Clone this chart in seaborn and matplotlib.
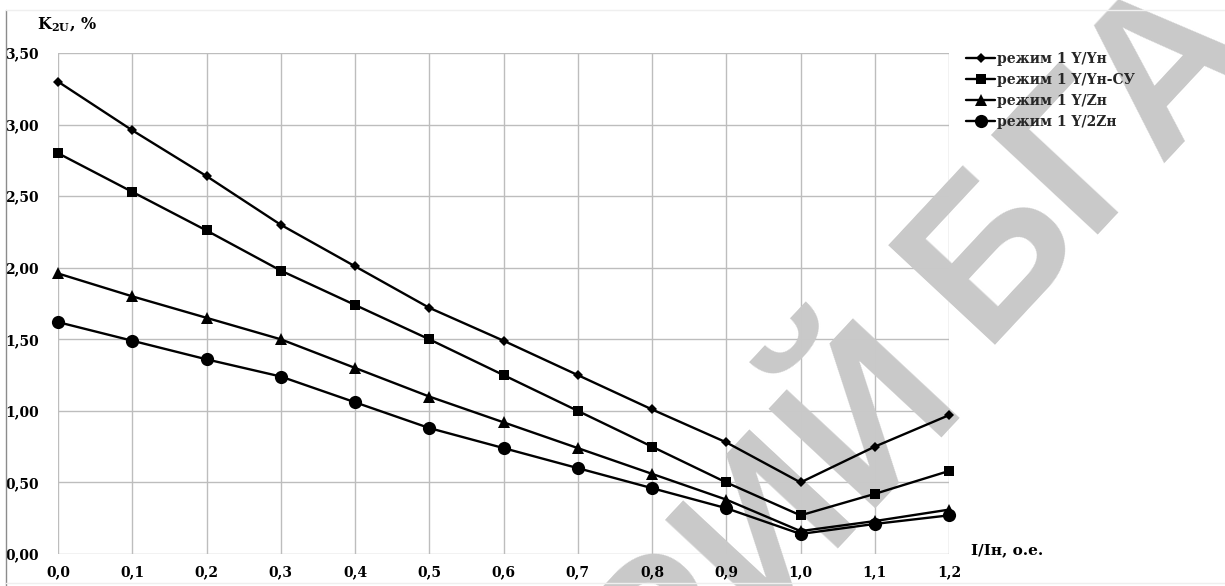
import numpy as np
import pandas as pd
import matplotlib
matplotlib.use("Agg")
import matplotlib.pyplot as plt
from matplotlib.lines import Line2D
import seaborn as sns

# Load current ratio I/Iн, о.е.
load = [0.0, 0.1, 0.2, 0.3, 0.4, 0.5, 0.6, 0.7, 0.8, 0.9, 1.0, 1.1, 1.2]

# Voltage unbalance factor K2U, % for each transformer connection
k_yyn = [3.30, 2.96, 2.64, 2.30, 2.01, 1.72, 1.49, 1.25, 1.01, 0.78, 0.50, 0.75, 0.97]
k_yyn_su = [2.80, 2.53, 2.26, 1.98, 1.74, 1.50, 1.25, 1.00, 0.75, 0.50, 0.27, 0.42, 0.58]
k_yzn = [1.96, 1.80, 1.65, 1.50, 1.30, 1.10, 0.92, 0.74, 0.56, 0.38, 0.16, 0.23, 0.31]
k_y2zn = [1.62, 1.49, 1.36, 1.24, 1.06, 0.88, 0.74, 0.60, 0.46, 0.32, 0.14, 0.21, 0.27]

series_names = ["режим 1 Y/Yн", "режим 1 Y/Yн-СУ", "режим 1 Y/Zн", "режим 1 Y/2Zн"]

x_ticks = [0.0, 0.1, 0.2, 0.3, 0.4, 0.5, 0.6, 0.7, 0.8, 0.9, 1.0, 1.1, 1.2]
x_tick_labels = ["0,0", "0,1", "0,2", "0,3", "0,4", "0,5", "0,6",
                 "0,7", "0,8", "0,9", "1,0", "1,1", "1,2"]
y_ticks = [0.0, 0.5, 1.0, 1.5, 2.0, 2.5, 3.0, 3.5]
y_tick_labels = ["0,00", "0,50", "1,00", "1,50", "2,00", "2,50", "3,00", "3,50"]

sns.set_theme(style="white")
plt.rcParams["font.family"] = ["DejaVu Serif"]
plt.rcParams["font.weight"] = "bold"
plt.rcParams["mathtext.fontset"] = "dejavuserif"
plt.rcParams["axes.axisbelow"] = False

W, H = 1225, 586
fig = plt.figure(figsize=(W / 100, H / 100), dpi=100)
fig.patch.set_facecolor("white")


def fx(px):
    return px / W


def fy(py):
    return 1 - py / H


# plot area in pixels: left 58, right 949, top 53, bottom 554
ax = fig.add_axes([fx(58), fy(554), fx(949) - fx(58), fy(53) - fy(554)])
ax.set_facecolor("white")

df = pd.DataFrame({
    "load": load * 4,
    "k2u": k_yyn + k_yyn_su + k_yzn + k_y2zn,
    "mode": np.repeat(series_names, len(load)),
})

marker_styles = {
    series_names[0]: ("D", 5.5),
    series_names[1]: ("s", 7.5),
    series_names[2]: ("^", 8),
    series_names[3]: ("o", 9.5),
}

for name in series_names:
    m, ms = marker_styles[name]
    sub = df[df["mode"] == name]
    sns.lineplot(data=sub, x="load", y="k2u", ax=ax, color="black",
                 marker=m, markersize=ms, markeredgewidth=0, linewidth=1.7,
                 label=name, clip_on=False, zorder=3)

ax.set_xlim(0, 1.2)
ax.set_ylim(0, 3.5)
ax.set_xticks(x_ticks)
ax.set_xticklabels(x_tick_labels)
ax.set_yticks(y_ticks)
ax.set_yticklabels(y_tick_labels)
ax.tick_params(axis="both", length=0, labelsize=10, colors="black")
ax.tick_params(axis="x", pad=8)
ax.tick_params(axis="y", pad=14)
for lab in ax.get_xticklabels() + ax.get_yticklabels():
    lab.set_fontweight("bold")
ax.set_xlabel("")
ax.set_ylabel("")
for s in ax.spines.values():
    s.set_visible(False)

# grid drawn as plain lines under the watermark and the curves
grid_color = "#bdbdbd"
for xv in x_ticks:
    ax.axvline(xv, color=grid_color, lw=1.0, zorder=0.5)
for yv in y_ticks:
    ax.axhline(yv, color=grid_color, lw=1.0, zorder=0.5)

# repository watermark, two words along one slanted baseline
theta = 47
u = np.array([np.cos(np.radians(theta)), -np.sin(np.radians(theta))])
p_right = np.array([981.0, 345.0])                        # start of the second word
p_left = p_right - 59.0 * u + np.array([25.0, 8.0])       # end of the first word
wm_kw = dict(transform=fig.transFigure, rotation=theta, rotation_mode="anchor",
             va="baseline", fontsize=152, color="#c9c9c9", fontweight="bold",
             family="Liberation Sans", zorder=1, clip_on=False)
ax.text(fx(p_left[0]), fy(p_left[1]), "РЕПОЗИТОРИЙ", ha="right", **wm_kw)
ax.text(fx(p_right[0]), fy(p_right[1]), "БГАТУ", ha="left", **wm_kw)

# axis titles
fig.text(fx(37), fy(25), r"$\mathbf{K_{2U}}$, %", ha="left", va="center",
         fontsize=11.5, fontweight="bold", color="black")
fig.text(fx(971), fy(550), "I/Iн, о.е.", ha="left", va="center",
         fontsize=11, fontweight="bold", color="black")

leg = ax.legend(loc="upper left", bbox_to_anchor=(fx(966), fy(52)),
                bbox_transform=fig.transFigure, frameon=False,
                prop={"family": "DejaVu Serif", "weight": "bold", "size": 10},
                handlelength=2.1, handletextpad=0.15, labelspacing=0.5,
                borderpad=0, borderaxespad=0)
leg.set_zorder(5)

# page frame lines
fig.add_artist(Line2D([fx(5.5), fx(5.5)], [fy(10), fy(586)], color="#8c8c8c", lw=1.0))
fig.add_artist(Line2D([fx(5.5), fx(1225)], [fy(10), fy(10)], color="#efefef", lw=1.0))
fig.add_artist(Line2D([fx(5.5), fx(1225)], [fy(583), fy(583)], color="#efefef", lw=1.0))

fig.savefig("out.png", dpi=100, facecolor="white")
